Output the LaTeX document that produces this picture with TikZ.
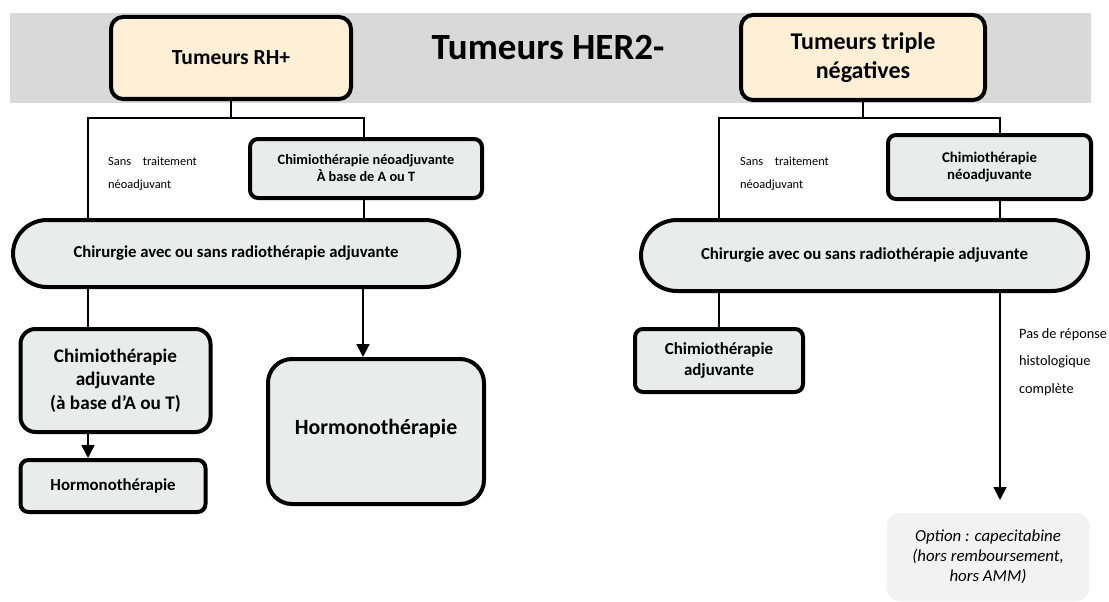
\documentclass[tikz,border=0pt]{standalone}
\usepackage{fontspec}
\setmainfont{Carlito}
\usetikzlibrary{arrows.meta}
\definecolor{bandgray}{HTML}{D9D9D9}
\definecolor{beige}{HTML}{FCEFD5}
\definecolor{boxgray}{HTML}{E9ECEB}
\definecolor{optgray}{HTML}{F2F2F2}
\newcommand{\fsz}[2]{\fontsize{#1}{#2}\selectfont}
\begin{document}
\begin{tikzpicture}[x=1pt,y=-1pt,
  box/.style={draw=black, line width=4pt, fill=boxgray, rounded corners=#1, inner sep=0pt, align=center},
  box/.default=8pt,
  head/.style={box=12pt, fill=beige},
  conn/.style={line width=1.8pt},
  arr/.style={conn, -{Triangle[length=13pt,width=13pt]}},
  lbl/.style={inner sep=0pt, align=left, anchor=west}
]
\useasboundingbox (0,0) rectangle (1109,602);
% band
\fill[bandgray] (10,13) rectangle (1091,103);
\node[inner sep=0pt, font=\bfseries\fsz{37}{42}] (title) at (548,48) {Tumeurs HER2-};

% left tree
\node[head, minimum width=240pt, minimum height=82pt, font=\bfseries\fsz{21.5}{26}] (rh) at (231,58) {Tumeurs RH+};
\node[box, minimum width=232pt, minimum height=59pt, font=\bfseries\fsz{14.3}{17}] (cnL) at (366,168.5) {Chimiothérapie néoadjuvante\\À base de A ou T};
\node[box=34pt, minimum width=446pt, minimum height=67pt, font=\bfseries\fsz{16.7}{20}] (chirL) at (236,253.5) {Chirurgie avec ou sans radiothérapie adjuvante};
\node[lbl, font=\fsz{12.4}{23}] (sansL) at (108,173.5) {Sans\hspace{9pt} traitement\\néoadjuvant};
\node[box=15pt, minimum width=190pt, minimum height=103pt, font=\bfseries\fsz{19.2}{23.5}] (caL) at (115.5,380.5) {Chimiothérapie\\adjuvante\\(à base d’A ou T)};
\node[box=8pt, minimum width=185pt, minimum height=52pt, font=\bfseries\fsz{16.8}{20}] (hsm) at (113,486) {Hormonothérapie};
\node[box=24pt, minimum width=216pt, minimum height=145pt, font=\bfseries\fsz{21.8}{26}] (hbig) at (376,431.5) {\raisebox{10pt}{Hormonothérapie}};

\draw[conn] (rh.south) -- (rh.south |- 0,118);
\draw[conn] (chirL.north -| 88,0) -- (88,118) -| (cnL.north -| 364,0);
\draw[conn] (cnL.south -| 364,0) -- (chirL.north -| 364,0);
\draw[conn] (chirL.south -| 88,0) -- (caL.north -| 88,0);
\draw[arr] (chirL.south -| 363,0) -- (hbig.north -| 363,0);
\draw[arr] (caL.south -| 88,0) -- (hsm.north -| 88,0);

% right tree
\node[head, minimum width=244pt, minimum height=85pt, font=\bfseries\fsz{24}{29}] (tri) at (863,57.5) {Tumeurs triple\\négatives};
\node[box, minimum width=203pt, minimum height=64pt, font=\bfseries\fsz{14.8}{17}] (cnR) at (989.5,167) {Chimiothérapie\\néoadjuvante};
\node[box=36pt, minimum width=447pt, minimum height=71pt, font=\bfseries\fsz{16.8}{20}] (chirR) at (864.5,255.5) {Chirurgie avec ou sans radiothérapie adjuvante};
\node[lbl, font=\fsz{12.4}{23}] (sansR) at (740,173.5) {Sans\hspace{9pt} traitement\\néoadjuvant};
\node[box=8pt, minimum width=168pt, minimum height=63pt, font=\bfseries\fsz{16.9}{21}] (caR) at (719,360.5) {Chimiothérapie\\adjuvante};
\node[lbl, font=\fsz{14.3}{27.5}] (pas) at (1019,362) {Pas de réponse\\histologique\\complète};
\node[fill=optgray, rounded corners=12pt, minimum width=202pt, minimum height=88pt, inner sep=0pt, align=center, font=\itshape\fsz{16.8}{20}] (opt) at (988,557) {Option : capecitabine\\(hors remboursement,\\hors AMM)};
\coordinate (tip) at (1000,500);

\draw[conn] (tri.south) -- (tri.south |- 0,118);
\draw[conn] (chirR.north -| 719,0) -- (719,118) -| (cnR.north -| 1000,0);
\draw[conn] (cnR.south -| 1000,0) -- (chirR.north -| 1000,0);
\draw[conn] (chirR.south -| 719,0) -- (caR.north -| 719,0);
\draw[arr] (chirR.south -| 1000,0) -- (tip);
\end{tikzpicture}
\end{document}
